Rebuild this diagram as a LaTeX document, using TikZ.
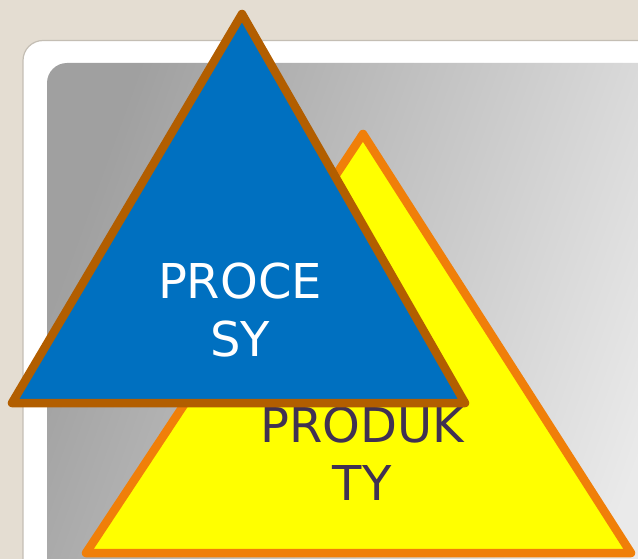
\documentclass[tikz,border=0pt]{standalone}
\usepackage{fontspec}
\setmainfont{DejaVu Sans}
\definecolor{bgbeige}{HTML}{E4DDD2}
\definecolor{frameline}{HTML}{C4BEB4}
\definecolor{gleft}{HTML}{A0A0A0}
\definecolor{gright}{HTML}{EAEAEA}
\definecolor{blueFill}{HTML}{0070C0}
\definecolor{blueEdge}{HTML}{B25E00}
\definecolor{yelFill}{HTML}{FFFF00}
\definecolor{yelEdge}{HTML}{F07F09}
\definecolor{darktext}{HTML}{403152}
\tikzset{
  tri/.style={line width=8.5pt, line join=round},
  lbl/.style={align=center, font=\fontsize{48pt}{58pt}\selectfont, inner sep=0pt}
}
\begin{document}
\begin{tikzpicture}[x=1pt,y=-1pt]
\useasboundingbox (0,0) rectangle (638,559);
\clip (0,0) rectangle (638,559);
\fill[bgbeige] (0,0) rectangle (638,559);
\draw[frameline, fill=white, line width=1.2pt, rounded corners=20pt] (23,40.5) rectangle (720,720);
\shade[rounded corners=20pt, shading=axis, left color=gleft, right color=gright, shading angle=70] (47,63) rectangle (680,600);
% yellow triangle
\draw[tri, draw=yelEdge, fill=yelFill] (363,134) coordinate (ya) -- (631,553) coordinate (yr) -- (86,553) coordinate (yl) -- cycle;
\node[lbl, text=darktext] (produkty) at (362,454) {PRODUK\\TY};
% blue triangle
\draw[tri, draw=blueEdge, fill=blueFill] (242,14) coordinate (ba) -- (465,403) coordinate (br) -- (12,403) coordinate (bl) -- cycle;
\node[lbl, text=white] (procesy) at (240,310) {PROCE\\SY};
\end{tikzpicture}
\end{document}
